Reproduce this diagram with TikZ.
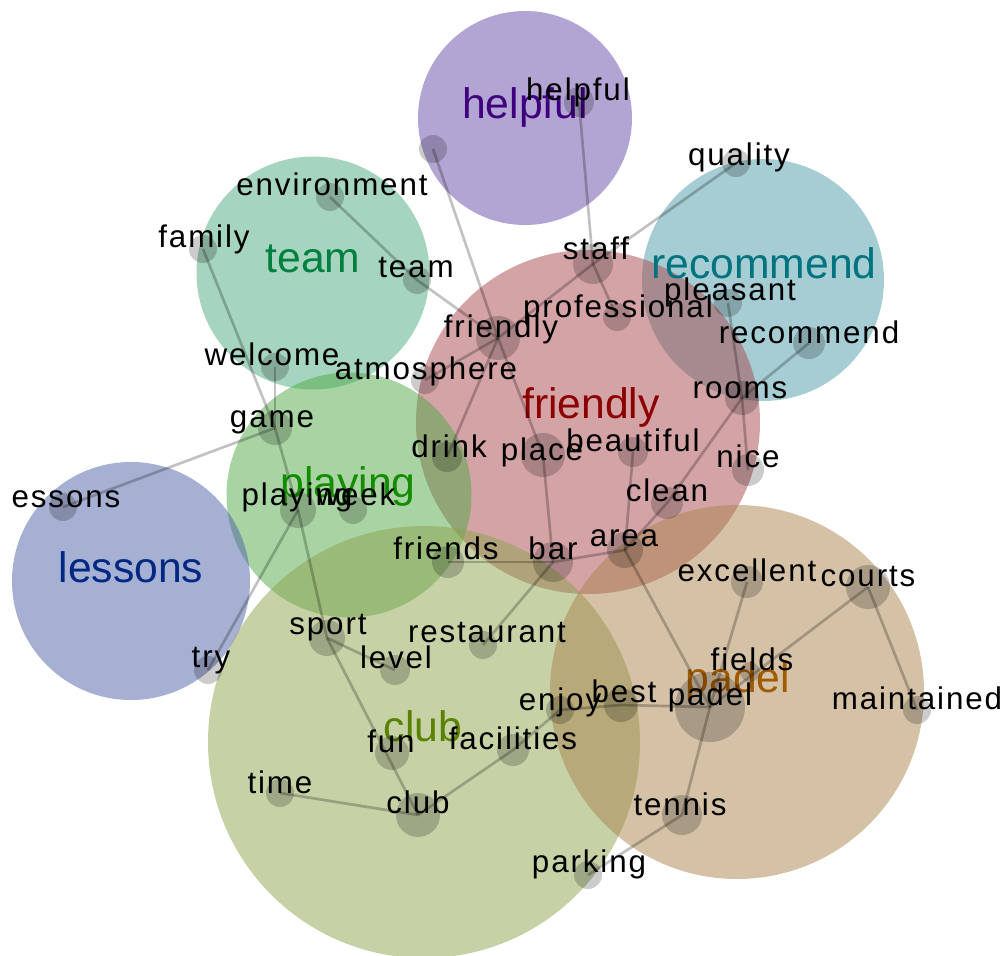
\documentclass[tikz,border=0pt]{standalone}
\usepackage{fontspec}
\setmainfont{Liberation Sans}
\newfontfamily\wordfont[LetterSpace=6]{Liberation Sans}
\definecolor{cHelpful}{RGB}{103,75,167}
\definecolor{cTeam}{RGB}{75,169,127}
\definecolor{cRecommend}{RGB}{75,155,167}
\definecolor{cFriendly}{RGB}{169,71,77}
\definecolor{cPlaying}{RGB}{81,169,71}
\definecolor{cLessons}{RGB}{75,97,167}
\definecolor{cClub}{RGB}{141,163,77}
\definecolor{cPadel}{RGB}{169,131,77}
\definecolor{tHelpful}{RGB}{63,0,125}
\definecolor{tTeam}{RGB}{0,128,64}
\definecolor{tRecommend}{RGB}{0,115,128}
\definecolor{tFriendly}{RGB}{140,0,0}
\definecolor{tPlaying}{RGB}{20,140,0}
\definecolor{tLessons}{RGB}{0,40,130}
\definecolor{tClub}{RGB}{90,130,0}
\definecolor{tPadel}{RGB}{160,90,0}
\begin{document}
\begin{tikzpicture}[x=0.75pt,y=-0.75pt,
  cluster/.style={circle, inner sep=0pt, fill opacity=0.5, draw=none},
  biglab/.style={anchor=base, inner sep=0pt, font=\fontsize{32}{36}\selectfont},
  wdot/.style={circle, inner sep=0pt, fill=black, fill opacity=0.2, draw=none},
  wlab/.style={anchor=base, inner sep=0pt, text=black, font=\wordfont\fontsize{23.5}{27}\selectfont},
  link/.style={draw=black, draw opacity=0.24, line width=2pt}]
\useasboundingbox (0,0) rectangle (1007,956);
% clusters
\node[cluster, fill=cHelpful, minimum size=214*0.75pt] (C-helpful) at (525,118) {};
\node[cluster, fill=cTeam, minimum size=233*0.75pt] (C-team) at (313,273) {};
\node[cluster, fill=cRecommend, minimum size=242*0.75pt] (C-recommend) at (763,280) {};
\node[cluster, fill=cFriendly, minimum size=344*0.75pt] (C-friendly) at (588,422) {};
\node[cluster, fill=cPlaying, minimum size=245*0.75pt] (C-playing) at (349,495) {};
\node[cluster, fill=cLessons, minimum size=238*0.75pt] (C-lessons) at (131,581) {};
\node[cluster, fill=cClub, minimum size=432*0.75pt] (C-club) at (424,742) {};
\node[cluster, fill=cPadel, minimum size=374*0.75pt] (C-padel) at (737,692) {};
% cluster labels
\node[biglab, text=tHelpful] (B-helpful) at (525,118) {helpful};
\node[biglab, text=tTeam] (B-team) at (313,272) {team};
\node[biglab, text=tRecommend] (B-recommend) at (764,278) {recommend};
\node[biglab, text=tFriendly] (B-friendly) at (591,418) {friendly};
\node[biglab, text=tPlaying] (B-playing) at (348,497) {playing};
\node[biglab, text=tLessons] (B-lessons) at (131,582) {lessons};
\node[biglab, text=tClub] (B-club) at (423,741) {club};
\node[biglab, text=tPadel] (B-padel) at (738,692) {padel};
% word dots
\node[wdot, minimum size=14*1.5pt] (u1) at (433,149) {};
\foreach \id/\x/\y/\r in {helpful/579/102/15, staff/593/264/20, quality/736/163/14,
  environment/330/197/14, family/203/249/14, teamw/417/280/14, welcome/275/367/14,
  atmosphere/425/380/14, friendlyw/498/338/22, professional/617/317/14,
  pleasant/728/303/14, recommendw/809/343/16, rooms/742/398/17, drink/447/457/15,
  place/543/455/22, beautiful/633/452/15, nice/748/470/16, clean/667/503/16,
  area/625/550/18, bar/553/562/20, friends/448/562/16, game/275/428/17,
  playingw/298/510/18, week/353/510/14, lessonsw/63/507/14, try/208/670/14,
  sport/327/638/18, level/395/670/15, restaurant/483/645/14, enjoy/560/710/14,
  best/621/705/17, padelw/710/707/35, fields/750/672/10, excellent/747/582/16,
  courts/868/587/22, maintained/917/710/14, tennis/682/815/20, parking/588/875/14,
  fun/392/753/17, time/280/793/14, clubw/418/815/22, facilities/513/750/16}
  {\node[wdot, minimum size=\r*1.5pt] (\id) at (\x,\y) {};}
% links
\foreach \a/\b in {u1/friendlyw, friendlyw/place, helpful/staff, staff/quality,
  staff/friendlyw, staff/professional, teamw/friendlyw, environment/teamw,
  friendlyw/atmosphere, friendlyw/drink, pleasant/rooms, recommendw/rooms,
  rooms/nice, rooms/clean, clean/area, beautiful/area, place/bar, bar/area,
  friends/bar, bar/restaurant, area/padelw, excellent/padelw, courts/padelw,
  courts/maintained, best/padelw, enjoy/best, padelw/tennis, tennis/parking,
  facilities/enjoy, clubw/facilities, clubw/time, sport/clubw, level/sport,
  playingw/sport, game/playingw, family/game, welcome/game, game/lessonsw,
  playingw/try}
  {\draw[link] (\a.center) -- (\b.center);}
% word labels
\foreach \id/\x/\y/\t in {helpful/578/100/helpful, quality/739/165/quality,
  staff/596/259/staff, environment/332/195/environment, family/204/247/family,
  teamw/416/277/team, welcome/272/365/welcome, atmosphere/426/379/atmosphere,
  friendlyw/501/337/friendly, professional/618/317/professional,
  pleasant/730/300/pleasant, recommendw/809/343/recommend, rooms/740/398/rooms,
  drink/449/457/drink, place/542/460/place, beautiful/633/451/beautiful,
  nice/748/467/nice, clean/667/501/clean, area/624/546/area, bar/553/559/bar,
  friends/446/559/friends, game/272/427/game, playingw/297/505/playing,
  week/356/505/week, lessonsw/66/507/essons, try/211/667/try, sport/328/634/sport,
  level/396/668/level, restaurant/487/642/restaurant, enjoy/560/710/enjoy,
  best/624/702/best, padelw/710/705/padel, fields/752/670/fields,
  excellent/747/581/excellent, courts/868/586/courts, maintained/917/709/maintained,
  tennis/680/815/tennis, parking/589/872/parking, fun/391/752/fun,
  time/280/793/time, clubw/418/813/club, facilities/513/749/facilities}
  {\node[wlab] (l-\id) at (\x,\y) {\t};}
\end{tikzpicture}
\end{document}
